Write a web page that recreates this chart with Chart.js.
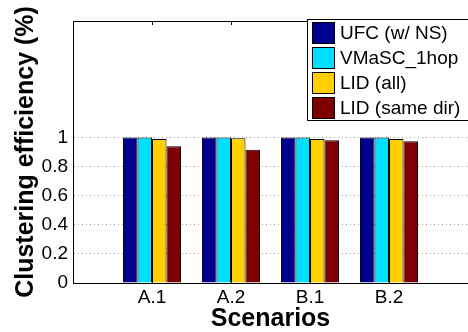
<!DOCTYPE html>
<html><head><meta charset="utf-8">
<script src="https://cdn.jsdelivr.net/npm/chart.js@4"></script>
<style>html,body{margin:0;padding:0;background:#fff}#wrap{width:468px;height:332px}</style>
</head><body><div id="wrap"><canvas id="c" width="468" height="332"></canvas></div>
<script>
const categories = ['', 'A.1', 'A.2', 'B.1', 'B.2', ''];
const seriesNames = ['UFC (w/ NS)', 'VMaSC_1hop', 'LID (all)', 'LID (same dir)'];
const ufc = [null, 1.0, 1.0, 1.0, 1.0, null];
const vmasc = [null, 1.0, 1.0, 1.0, 1.0, null];
const lidAll = [null, 0.99, 0.995, 0.99, 0.99, null];
const lidSame = [null, 0.94, 0.915, 0.98, 0.973, null];
const yTicks = [0, 0.2, 0.4, 0.6, 0.8, 1];
const colors = ['#00008F', '#00DFFF', '#FFCF00', '#7F0000'];
const F = '"Liberation Sans", Arial, sans-serif';

const framePlugin = {
  id: 'frame',
  afterDraw(chart) {
    const {ctx, chartArea: a, scales} = chart;
    ctx.save();
    ctx.strokeStyle = '#000'; ctx.lineWidth = 1;
    ctx.beginPath();
    ctx.moveTo(a.left, a.top + 0.5); ctx.lineTo(a.right, a.top + 0.5);
    ctx.stroke();
    for (let i = 1; i <= 4; i++) {
      const x = Math.round(scales.x.getPixelForValue(i)) + 0.5;
      ctx.beginPath(); ctx.moveTo(x, a.top); ctx.lineTo(x, a.top + 4); ctx.stroke();
      ctx.beginPath(); ctx.moveTo(x, a.bottom); ctx.lineTo(x, a.bottom - 4); ctx.stroke();
    }
    const lx = 307, ly = 19, lw = 170, lh = 101;
    ctx.fillStyle = '#fff'; ctx.fillRect(lx, ly, lw, lh);
    ctx.strokeRect(lx + 0.5, ly + 0.5, lw, lh);
    ctx.font = '19px ' + F; ctx.textBaseline = 'middle'; ctx.textAlign = 'left';
    chart.data.datasets.forEach((ds, i) => {
      const y = ly + 3 + i * 25;
      ctx.fillStyle = ds.backgroundColor; ctx.fillRect(lx + 5, y, 22, 21);
      ctx.strokeStyle = '#000'; ctx.strokeRect(lx + 5.5, y + 0.5, 22, 21);
      ctx.fillStyle = '#000'; ctx.fillText(ds.label, lx + 33, y + 12);
    });
    ctx.restore();
  }
};

new Chart(document.getElementById('c'), {
  type: 'bar',
  data: {
    labels: categories,
    datasets: [ufc, vmasc, lidAll, lidSame].map((d, i) => ({
      label: seriesNames[i], data: d, backgroundColor: colors[i],
      borderColor: '#000', borderWidth: 1,
      categoryPercentage: 0.735, barPercentage: 1.0
    }))
  },
  options: {
    responsive: false, animation: false,
    layout: {padding: {top: 21, right: 0, left: 0, bottom: 0}},
    plugins: {legend: {display: false}, tooltip: {enabled: false}},
    scales: {
      x: {
        offset: false,
        grid: {display: false, drawTicks: false},
        border: {color: '#000', width: 1},
        ticks: {font: {size: 19, family: F}, color: '#000', padding: 3, maxRotation: 0, autoSkip: false},
        title: {display: true, text: 'Scenarios', font: {size: 25, weight: 'bold', family: F, lineHeight: 1.0}, color: '#000', padding: {top: -6, bottom: 0}},
        afterFit(s) { s.height = 49; s.paddingLeft = 0; s.paddingRight = 0; }
      },
      y: {
        min: 0, max: 1.8,
        afterBuildTicks(s) { s.ticks = yTicks.map(v => ({value: v})); },
        grid: {color: '#999', drawTicks: false, tickLength: 0},
        border: {color: '#000', width: 1, dash: [1, 3]},
        ticks: {font: {size: 19, family: F}, color: '#000', padding: 5, callback: v => String(v)},
        title: {display: true, text: 'Clustering efficiency (%)', font: {size: 25, weight: 'bold', family: F, lineHeight: 1.0}, color: '#000', padding: {top: 14, bottom: 0}},
        afterFit(s) { s.width = 73; }
      }
    }
  },
  plugins: [framePlugin]
});
</script></body></html>
